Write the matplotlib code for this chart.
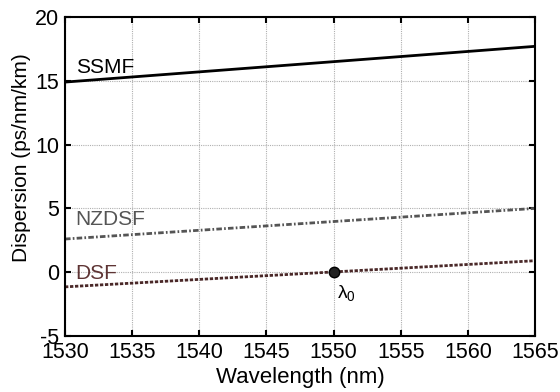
import matplotlib.pyplot as plt
import numpy as np

# Fibre dispersion curves, end points in ps/nm/km
wavelength = [1530, 1565]
ssmf = [14.9, 17.7]
nzdsf = [2.6, 5.0]
dsf = [-1.15, 0.9]
lambda0 = 1550
lambda0_disp = 0.0

xticks = [1530, 1535, 1540, 1545, 1550, 1555, 1560, 1565]
yticks = [-5, 0, 5, 10, 15, 20]

plt.rcParams['font.family'] = ['Liberation Sans', 'DejaVu Sans']
plt.rcParams['mathtext.fontset'] = 'custom'
plt.rcParams['mathtext.rm'] = 'Liberation Sans'
plt.rcParams['axes.unicode_minus'] = False

fig = plt.figure(figsize=(5.6, 3.92), dpi=100)
ax = fig.add_axes([65 / 560, 1 - 336 / 392, 470 / 560, 319 / 392])

ax.plot(wavelength, ssmf, color='black', lw=2.0, solid_capstyle='butt')
ax.plot(wavelength, nzdsf, color='#555555', lw=2.0, ls=(0, (2.0, 0.8, 0.6, 0.8)))
ax.plot(wavelength, dsf, color='#4a2828', lw=2.0, ls=(0, (1.2, 0.6)))
ax.plot([lambda0], [lambda0_disp], 'o', color='#222222', markersize=7.5,
        markeredgecolor='black', zorder=5)

ax.text(1530.8, 15.6, 'SSMF', fontsize=15, color='black')
ax.text(1530.8, 3.7, 'NZDSF', fontsize=15, color='#555555')
ax.text(1530.8, -0.5, 'DSF', fontsize=15, color='#5e3434')
ax.text(1550.25, -2.1, 'λ$_\\mathrm{0}$', fontsize=14, color='black')

ax.set_xlim(1530, 1565)
ax.set_ylim(-5, 20)
ax.set_xticks(xticks)
ax.set_yticks(yticks)
ax.tick_params(direction='in', top=True, right=True, length=4, width=1.5,
               labelsize=15.5, pad=4)
ax.grid(True, ls=(0, (1, 1)), color='#b0b0b0', lw=0.8)
for s in ax.spines.values():
    s.set_linewidth(1.5)

ax.set_xlabel('Wavelength (nm)', fontsize=16)
ax.set_ylabel('Dispersion (ps/nm/km)', fontsize=15)
ax.xaxis.set_label_coords(0.5, -0.098)
ax.yaxis.set_label_coords(-0.072, 0.558)

fig.savefig('out.png', dpi=100, facecolor='white')
